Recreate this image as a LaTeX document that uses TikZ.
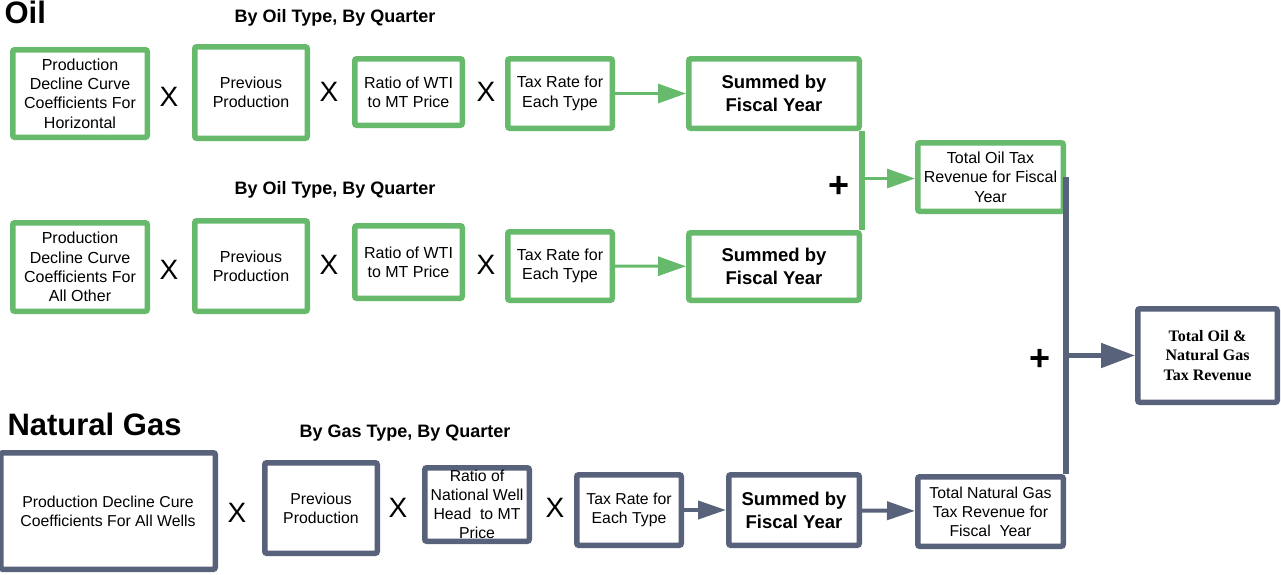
\documentclass[tikz,border=0pt]{standalone}
\usepackage{fontspec}
\setmainfont{Liberation Sans}
\newfontfamily\timesfont{Liberation Serif}
\usetikzlibrary{arrows.meta,positioning}
\definecolor{oilgreen}{RGB}{103,186,107}
\definecolor{gasgray}{RGB}{88,98,122}
\tikzset{
  oilbox/.style={
    draw=oilgreen,
    line width=5.5pt,
    rounded corners=2pt,
    fill=white,
    align=center,
    inner sep=2pt,
    font=\fontsize{16}{19.3}\selectfont
  },
  gasbox/.style={
    oilbox,
    draw=gasgray,
    font=\fontsize{15.8}{19}\selectfont
  },
  sumbox/.style={font=\bfseries\fontsize{18.5}{23}\selectfont},
  timesop/.style={font=\fontsize{28}{28}\selectfont},
  plusop/.style={font=\bfseries\fontsize{36}{36}\selectfont},
  heading/.style={font=\bfseries\fontsize{18}{20}\selectfont},
  bigheading/.style={font=\bfseries\fontsize{31}{34}\selectfont, anchor=west},
  oilline/.style={draw=oilgreen, line width=3pt},
  oilarrow/.style={oilline, -{Triangle[length=28pt,width=19pt]}},
  gasline/.style={draw=gasgray, line width=4pt},
  gasarrow/.style={gasline, -{Triangle[length=28pt,width=18pt]}}
}
\begin{document}
\begin{tikzpicture}[x=1pt,y=-1pt]
  \useasboundingbox (0,0) rectangle (1281,574);

  % oil, first row
  \node[bigheading] (oilhead) at (1,12) {Oil};
  \node[heading] (oiltype1) at (335,18) {By Oil Type, By Quarter};
  \node[oilbox, minimum width=134.5pt, minimum height=87.5pt] (decl1) at (80,93.5) {Production\\Decline Curve\\Coefficients For\\Horizontal};
  \node[timesop] (x11) at (169,97) {X};
  \node[oilbox, minimum width=112.5pt, minimum height=91.5pt] (prev1) at (251,92.5) {Previous\\Production};
  \node[timesop] (x12) at (329,92) {X};
  \node[oilbox, minimum width=107.5pt, minimum height=66.5pt] (ratio1) at (408.5,92) {Ratio of WTI\\to MT Price};
  \node[timesop] (x13) at (486,92) {X};
  \node[oilbox, minimum width=104.5pt, minimum height=69.5pt] (rate1) at (560,93.5) {Tax Rate for\\Each Type};
  \node[oilbox, sumbox, minimum width=170.5pt, minimum height=69.5pt] (sum1) at (774,93.5) {Summed by\\Fiscal Year};

  % oil, second row
  \node[heading] (oiltype2) at (335,190) {By Oil Type, By Quarter};
  \node[oilbox, minimum width=134.5pt, minimum height=88.5pt] (decl2) at (80,267) {Production\\Decline Curve\\Coefficients For\\All Other};
  \node[timesop] (x21) at (169,270) {X};
  \node[oilbox, minimum width=112.5pt, minimum height=90.5pt] (prev2) at (251,266) {Previous\\Production};
  \node[timesop] (x22) at (329,265) {X};
  \node[oilbox, minimum width=107.5pt, minimum height=72.5pt] (ratio2) at (408.5,262) {Ratio of WTI\\to MT Price};
  \node[timesop] (x23) at (486,265) {X};
  \node[oilbox, minimum width=104.5pt, minimum height=68.5pt] (rate2) at (560,266) {Tax Rate for\\Each Type};
  \node[oilbox, sumbox, minimum width=170.5pt, minimum height=67.5pt] (sum2) at (774,266.5) {Summed by\\Fiscal Year};

  \node[oilbox, minimum width=145.5pt, minimum height=68.5pt] (totoil) at (990.5,177) {Total Oil Tax\\Revenue for Fiscal\\Year};
  \node[plusop] (plusoil) at (839,186.5) {+};

  \draw[oilarrow] (rate1) -- (sum1);
  \draw[oilarrow] (rate2) -- (sum2);
  \draw[oilline, line width=5.5pt] (sum1.south east) -- (sum2.north east) coordinate[pos=0.48] (oiljoin);
  \draw[oilarrow] (oiljoin) -- (oiljoin -| totoil.west);

  % natural gas row
  \node[bigheading] (gashead) at (4,424) {Natural Gas};
  \node[heading] (gastype) at (405,433) {By Gas Type, By Quarter};
  \node[gasbox, minimum width=214.5pt, minimum height=116.5pt] (decl3) at (108,511) {Production Decline Cure\\Coefficients For All Wells};
  \node[timesop] (x31) at (237,513) {X};
  \node[gasbox, minimum width=112.5pt, minimum height=90.5pt] (prev3) at (321,508) {Previous\\Production};
  \node[timesop] (x32) at (398,508) {X};
  \node[gasbox, minimum width=104.5pt, minimum height=73.5pt, inner sep=0pt] (ratio3) at (477,504.5) {Ratio of\\National Well\\Head\ \ to MT\\Price};
  \node[timesop] (x33) at (555,508) {X};
  \node[gasbox, minimum width=104.5pt, minimum height=70.5pt] (rate3) at (629,510) {Tax Rate for\\Each Type};
  \node[gasbox, sumbox, minimum width=130.5pt, minimum height=70.5pt] (sum3) at (794,510) {Summed by\\Fiscal Year};
  \node[gasbox, minimum width=145.5pt, minimum height=69.5pt] (totgas) at (990.5,511.5) {Total Natural Gas\\Tax Revenue for\\Fiscal\ \ Year};

  \draw[gasarrow] (rate3) -- (sum3);
  \draw[gasarrow] (sum3) -- (totgas);

  % grand total
  \node[gasbox, minimum width=139.5pt, minimum height=93.5pt, font=\timesfont\bfseries\fontsize{16}{19.3}\selectfont] (total) at (1207.5,355.5) {Total Oil \&\\Natural Gas\\Tax Revenue};
  \node[plusop] (plusall) at (1040,360) {+};
  \draw[gasgray, line width=5.5pt] (totoil.east) -- (totgas.north east);
  \coordinate (gasjoin) at (totgas.north east |- total.west);
  \draw[gasline, line width=5pt, -{Triangle[length=34pt,width=24pt]}] (gasjoin) -- (total);
\end{tikzpicture}
\end{document}
